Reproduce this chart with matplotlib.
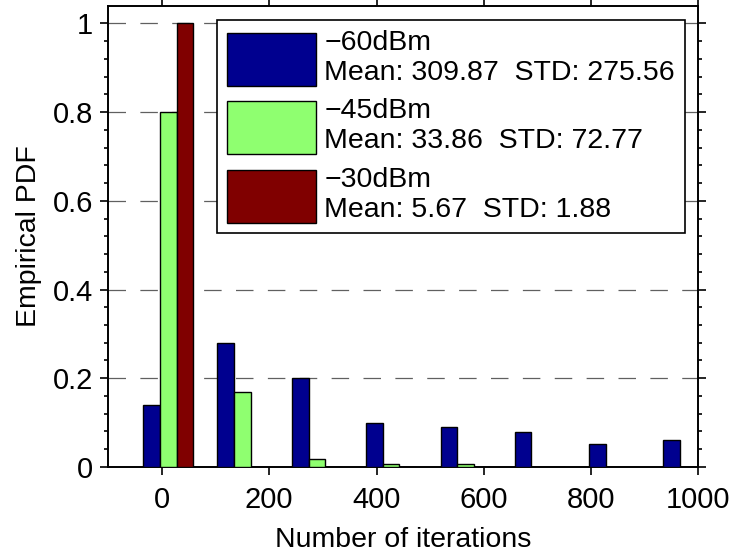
import matplotlib
matplotlib.use('Agg')
import matplotlib.pyplot as plt
import numpy as np

plt.rcParams['font.family'] = ['Liberation Sans', 'DejaVu Sans']

bin_centers = [12, 150, 289, 427, 566, 704, 843, 981]
pdf_60 = [0.14, 0.28, 0.20, 0.10, 0.09, 0.078, 0.052, 0.06]
pdf_45 = [0.80, 0.169, 0.017, 0.007, 0.006, 0.0, 0.0, 0.001]
pdf_30 = [1.0, 0.0, 0.0, 0.0, 0.0, 0.0, 0.0, 0.0]

labels = [
    '\u221260dBm\nMean: 309.87  STD: 275.56',
    '\u221245dBm\nMean: 33.86  STD: 72.77',
    '\u221230dBm\nMean: 5.67  STD: 1.88',
]
colors = ['#00008F', '#8FFF70', '#800000']

fig = plt.figure(figsize=(7.32, 5.52), dpi=100)
ax = fig.add_axes([0.148, 0.154, 0.806, 0.836])

width = 31
x = np.array(bin_centers)
for k, (vals, col, lab) in enumerate(zip([pdf_60, pdf_45, pdf_30], colors, labels)):
    ax.bar(x + (k - 1) * width, vals, width=width, color=col, edgecolor='black',
           linewidth=1.0, label=lab, zorder=3)

ax.set_xlim(-100, 1000)
ax.set_ylim(0, 1.04)
ax.set_xticks([0, 200, 400, 600, 800, 1000])
ax.set_yticks([0, 0.2, 0.4, 0.6, 0.8, 1.0])
ax.set_yticklabels(['0', '0.2', '0.4', '0.6', '0.8', '1'])
ax.set_yticks(np.arange(0, 1.04, 0.04), minor=True)

ax.yaxis.grid(True, linestyle=(0, (14, 11.5)), color='#606060', linewidth=0.9, zorder=0)
ax.set_axisbelow(True)

ax.tick_params(axis='both', which='both', direction='out', labelsize=21,
               top=True, right=True, width=1.2)
ax.tick_params(axis='x', pad=8)
ax.tick_params(axis='y', pad=5)
ax.tick_params(which='major', length=6)
ax.tick_params(which='minor', length=3)
for s in ax.spines.values():
    s.set_linewidth(1.4)

ax.set_xlabel('Number of iterations', fontsize=20.5, labelpad=9)
ax.set_ylabel('Empirical PDF', fontsize=20.5, labelpad=8)

leg = ax.legend(loc='upper right', bbox_to_anchor=(0.977, 0.969), borderaxespad=0,
                fontsize=20.5, fancybox=False, edgecolor='black', framealpha=1,
                handlelength=3.1, handleheight=2.49, handletextpad=0.3,
                labelspacing=0.44, borderpad=0.35)
leg.get_frame().set_linewidth(1.2)

fig.savefig('out.png', dpi=100)
